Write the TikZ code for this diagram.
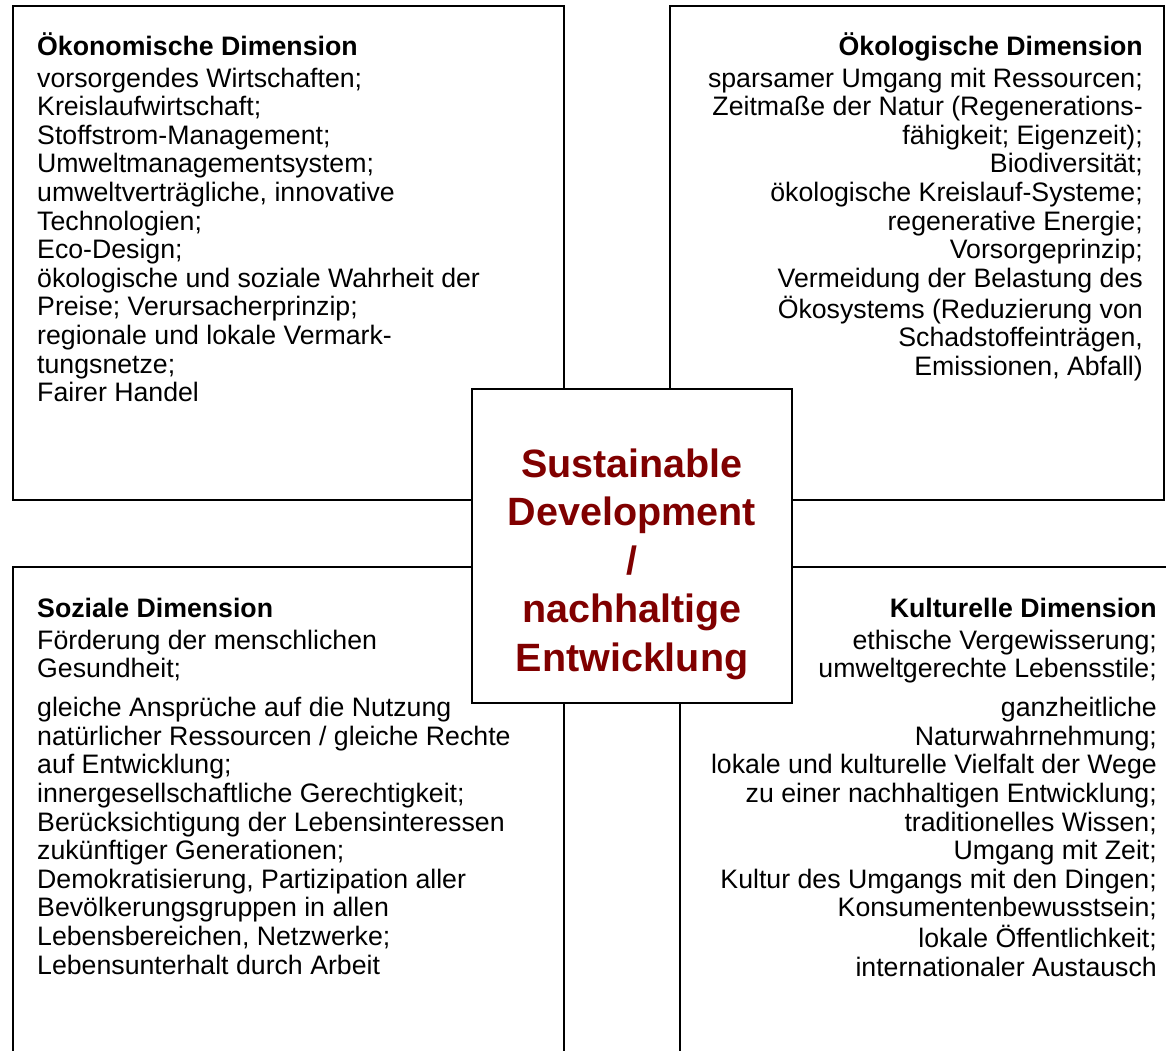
\documentclass[tikz,border=0pt]{standalone}
\usepackage{fontspec}
\setmainfont{Liberation Sans}
\definecolor{darkred}{HTML}{800000}
\begin{document}
\begin{tikzpicture}[x=1pt,y=-1pt,
  boxline/.style={draw=black,line width=1.8pt},
  bodytext/.style={inner sep=0pt,font=\fontsize{26.7}{28.6}\selectfont},
  centertext/.style={inner sep=0pt,text=darkred,font=\fontsize{39.5}{48.5}\selectfont\bfseries}]
\useasboundingbox (0,0) rectangle (1166,1050);
\clip (0,0) rectangle (1166,1050);
\fill[white] (0,0) rectangle (1166,1050);
% four dimension boxes
\draw[boxline] (13,6) rectangle (564,500);
\draw[boxline] (670,6) rectangle (1164,500);
\draw[boxline] (13,1070) -- (13,567) -- (564,567) -- (564,1070);
\draw[boxline] (680,1070) -- (680,567) -- (1180,567);
% centre box
\node[boxline,fill=white,minimum width=320pt,minimum height=314pt,inner sep=0pt] (centre) at (632,546) {};
\node[centertext,anchor=base] (ctext) at (632,477) {\begin{tabular}[t]{@{}c@{}}Sustainable\\Development\\/\\nachhaltige\\Entwicklung\end{tabular}};
% texts
\node[bodytext,anchor=base west] (oek) at (37,55) {\begin{tabular}[t]{@{}l@{}}\textbf{Ökonomische Dimension}\\[3.4pt]
vorsorgendes Wirtschaften;\\
Kreislaufwirtschaft;\\
Stoffstrom-Management;\\
Umweltmanagementsystem;\\
umweltverträgliche, innovative\\
Technologien;\\
Eco-Design;\\
ökologische und soziale Wahrheit der\\
Preise; Verursacherprinzip;\\
regionale und lokale Vermark-\\
tungsnetze;\\
Fairer Handel\end{tabular}};
\node[bodytext,anchor=base east] (oeko) at (1143,55) {\begin{tabular}[t]{@{}r@{}}\textbf{Ökologische Dimension}\\[3.4pt]
sparsamer Umgang mit Ressourcen;\\
Zeitmaße der Natur (Regenerations-\\
fähigkeit; Eigenzeit);\\
Biodiversität;\\
ökologische Kreislauf-Systeme;\\
regenerative Energie;\\
Vorsorgeprinzip;\\
Vermeidung der Belastung des\\
Ökosystems (Reduzierung von\\
Schadstoffeinträgen,\\
Emissionen, Abfall)\end{tabular}};
\node[bodytext,anchor=base west] (soz) at (37,617) {\begin{tabular}[t]{@{}l@{}}\textbf{Soziale Dimension}\\[3.4pt]
Förderung der menschlichen\\
Gesundheit;\\[10.5pt]
gleiche Ansprüche auf die Nutzung\\
natürlicher Ressourcen / gleiche Rechte\\
auf Entwicklung;\\
innergesellschaftliche Gerechtigkeit;\\
Berücksichtigung der Lebensinteressen\\
zukünftiger Generationen;\\
Demokratisierung, Partizipation aller\\
Bevölkerungsgruppen in allen\\
Lebensbereichen, Netzwerke;\\
Lebensunterhalt durch Arbeit\end{tabular}};
\node[bodytext,anchor=base east] (kul) at (1157,617) {\begin{tabular}[t]{@{}r@{}}\textbf{Kulturelle Dimension}\\[3.4pt]
ethische Vergewisserung;\\
umweltgerechte Lebensstile;\\[10.5pt]
ganzheitliche\\
Naturwahrnehmung;\\
lokale und kulturelle Vielfalt der Wege\\
zu einer nachhaltigen Entwicklung;\\
traditionelles Wissen;\\
Umgang mit Zeit;\\
Kultur des Umgangs mit den Dingen;\\
Konsumentenbewusstsein;\\
lokale Öffentlichkeit;\\
internationaler Austausch\end{tabular}};
\end{tikzpicture}
\end{document}
